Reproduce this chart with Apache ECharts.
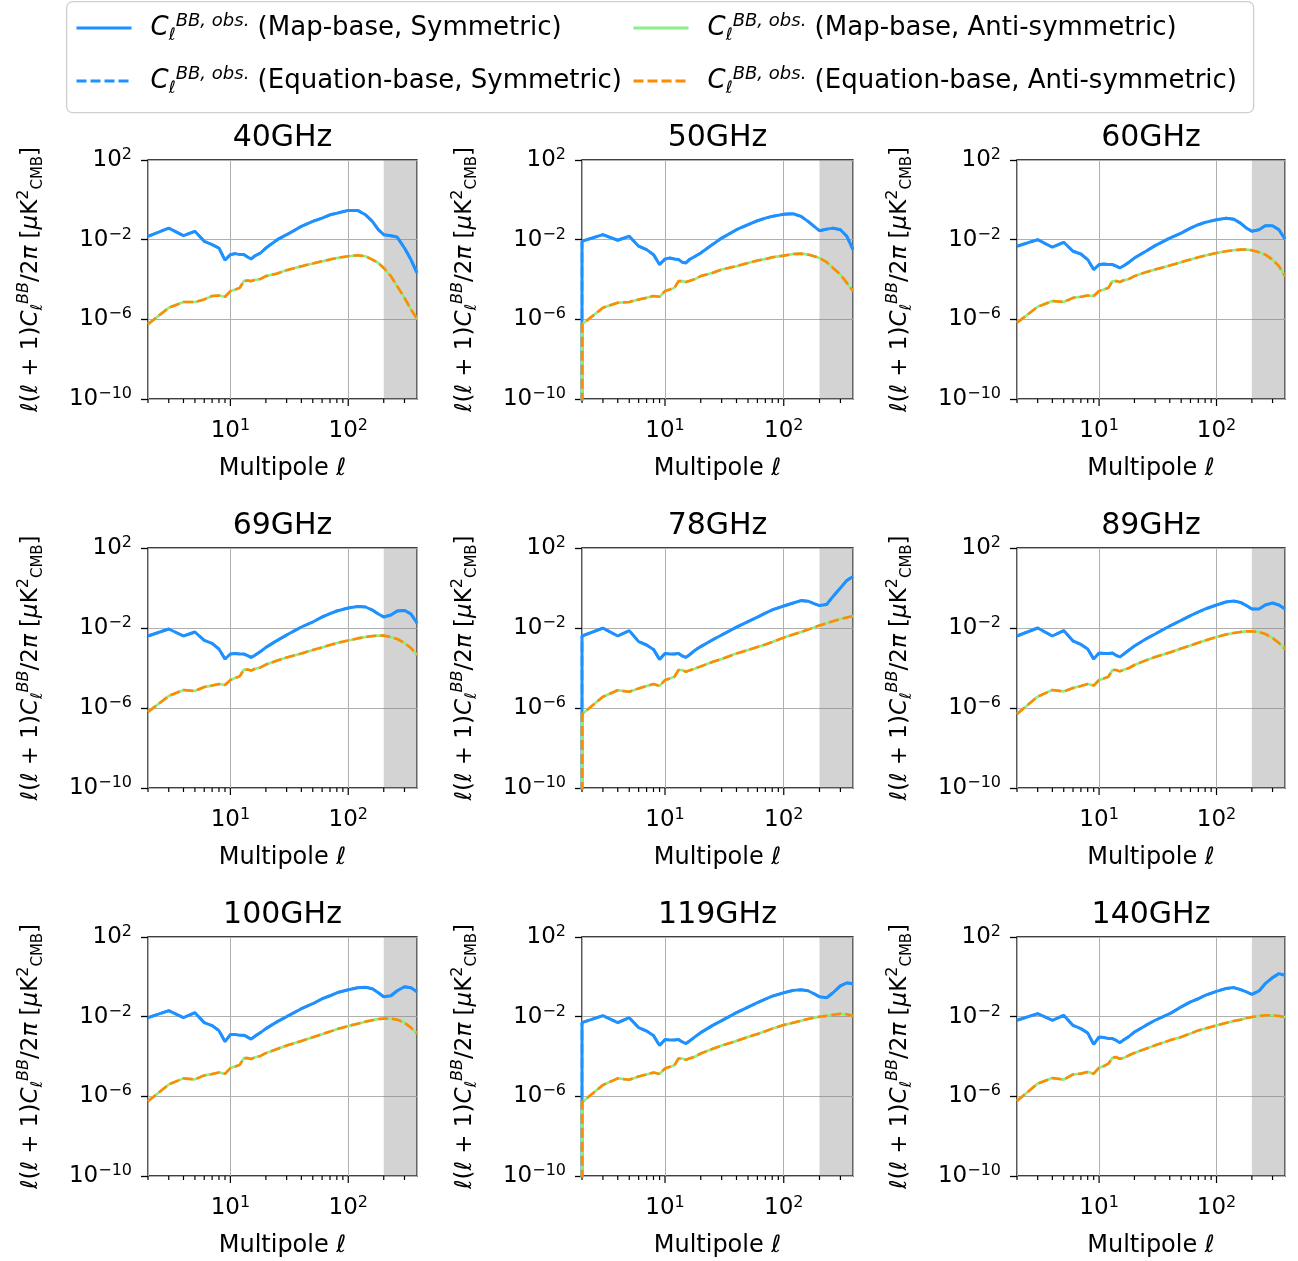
<!DOCTYPE html>
<html><head><meta charset="utf-8">
<script src="https://cdn.jsdelivr.net/npm/echarts@6/dist/echarts.min.js"></script>
<style>html,body{margin:0;padding:0;background:#fff}#c{width:1298px;height:1261px}</style>
</head><body><div id="c"></div>
<script>
// ---------- DATA (multipole ℓ and log10 of ℓ(ℓ+1)C_ℓ^BB/2π) ----------
const ells = [2,3,4,5,6,7,8,9,10,11,12,13,14,15,16,18,20,25,30,40,50,60,70,80,100,120,140,160,180,200,230,260,300,340,383];
const panelTitles = ['40GHz','50GHz','60GHz','69GHz','78GHz','89GHz','100GHz','119GHz','140GHz'];
const legendNames = ['Map-base, Symmetric','Equation-base, Symmetric','Map-base, Anti-symmetric','Equation-base, Anti-symmetric'];

// symmetric (blue) curves, log10 values
const sym40  = [-1.83,-1.42,-1.8,-1.58,-2.08,-2.25,-2.42,-3.03,-2.75,-2.7,-2.75,-2.75,-2.87,-2.97,-2.83,-2.67,-2.42,-2.0,-1.75,-1.33,-1.08,-0.92,-0.75,-0.67,-0.53,-0.53,-0.75,-1.08,-1.5,-1.75,-1.8,-1.87,-2.42,-3.0,-3.67];
const sym50  = [-2.08,-1.75,-2.03,-1.83,-2.33,-2.5,-2.75,-3.25,-2.97,-2.92,-2.97,-3.0,-3.13,-3.17,-3.0,-2.83,-2.67,-2.25,-1.92,-1.5,-1.25,-1.05,-0.92,-0.83,-0.72,-0.7,-0.83,-1.08,-1.33,-1.55,-1.47,-1.42,-1.5,-1.83,-2.5];
const sym60  = [-2.33,-2.0,-2.38,-2.13,-2.58,-2.72,-3.0,-3.5,-3.25,-3.22,-3.25,-3.25,-3.33,-3.42,-3.33,-3.13,-2.92,-2.58,-2.3,-1.92,-1.67,-1.42,-1.25,-1.13,-1.0,-0.92,-0.97,-1.17,-1.42,-1.58,-1.5,-1.3,-1.3,-1.5,-1.97];
const sym69  = [-2.4,-2.05,-2.4,-2.2,-2.62,-2.77,-3.05,-3.55,-3.3,-3.27,-3.3,-3.3,-3.38,-3.47,-3.38,-3.18,-2.97,-2.62,-2.35,-1.95,-1.7,-1.45,-1.28,-1.15,-1.0,-0.92,-0.95,-1.1,-1.3,-1.45,-1.35,-1.15,-1.12,-1.3,-1.75];
const sym78  = [-2.4,-2.01,-2.4,-2.13,-2.68,-2.85,-3.07,-3.57,-3.27,-3.3,-3.3,-3.27,-3.4,-3.47,-3.35,-3.1,-2.93,-2.6,-2.35,-1.96,-1.68,-1.46,-1.26,-1.09,-0.9,-0.75,-0.63,-0.66,-0.78,-0.88,-0.82,-0.42,0.0,0.38,0.58];
const sym89  = [-2.4,-2.0,-2.4,-2.13,-2.65,-2.82,-3.05,-3.55,-3.25,-3.27,-3.27,-3.25,-3.37,-3.45,-3.33,-3.1,-2.9,-2.55,-2.3,-1.9,-1.62,-1.38,-1.2,-1.05,-0.85,-0.7,-0.65,-0.72,-0.88,-1.05,-1.05,-0.85,-0.75,-0.85,-1.05];
const sym100 = [-2.05,-1.7,-2.05,-1.8,-2.3,-2.45,-2.7,-3.25,-2.9,-2.9,-2.93,-2.93,-3.03,-3.13,-3.0,-2.8,-2.6,-2.25,-2.0,-1.6,-1.35,-1.1,-0.95,-0.8,-0.65,-0.55,-0.52,-0.6,-0.8,-1.0,-0.95,-0.7,-0.5,-0.55,-0.75];
const sym119 = [-2.3,-1.95,-2.3,-2.05,-2.55,-2.72,-2.95,-3.45,-3.15,-3.17,-3.17,-3.15,-3.27,-3.35,-3.23,-3.0,-2.8,-2.45,-2.2,-1.8,-1.52,-1.3,-1.12,-0.97,-0.8,-0.68,-0.65,-0.7,-0.85,-1.0,-1.05,-0.8,-0.45,-0.3,-0.35];
const sym140 = [-2.18,-1.85,-2.18,-1.93,-2.44,-2.6,-2.82,-3.39,-3.02,-3.05,-3.1,-3.1,-3.19,-3.31,-3.19,-2.99,-2.77,-2.44,-2.18,-1.85,-1.51,-1.26,-1.1,-0.93,-0.73,-0.59,-0.54,-0.64,-0.76,-0.88,-0.71,-0.34,-0.04,0.16,0.08];

// anti-symmetric (green / orange) curves, log10 values
const anti40  = [-6.25,-5.42,-5.13,-5.13,-5.0,-4.83,-4.8,-4.87,-4.58,-4.5,-4.42,-4.08,-4.05,-4.08,-4.03,-3.97,-3.83,-3.7,-3.53,-3.33,-3.2,-3.08,-3.0,-2.92,-2.83,-2.78,-2.83,-3.0,-3.17,-3.42,-3.83,-4.33,-4.92,-5.5,-5.97];
const anti50  = [-6.25,-5.42,-5.17,-5.13,-5.0,-4.92,-4.83,-4.87,-4.58,-4.5,-4.42,-4.08,-4.08,-4.13,-4.08,-3.97,-3.83,-3.67,-3.5,-3.33,-3.17,-3.05,-2.97,-2.88,-2.8,-2.72,-2.7,-2.75,-2.83,-2.92,-3.13,-3.42,-3.75,-4.17,-4.58];
const anti60  = [-6.17,-5.37,-5.08,-5.13,-4.92,-4.87,-4.8,-4.83,-4.58,-4.5,-4.42,-4.08,-4.08,-4.13,-4.05,-3.97,-3.83,-3.63,-3.5,-3.3,-3.13,-3.0,-2.88,-2.8,-2.67,-2.58,-2.53,-2.5,-2.5,-2.53,-2.63,-2.75,-3.0,-3.33,-3.83];
const anti69  = [-6.2,-5.4,-5.1,-5.15,-4.95,-4.88,-4.8,-4.85,-4.6,-4.5,-4.42,-4.08,-4.08,-4.13,-4.05,-3.97,-3.83,-3.63,-3.48,-3.27,-3.1,-2.97,-2.85,-2.75,-2.62,-2.52,-2.45,-2.4,-2.38,-2.38,-2.45,-2.55,-2.75,-3.0,-3.35];
const anti78  = [-6.31,-5.44,-5.11,-5.19,-5.02,-4.9,-4.8,-4.9,-4.6,-4.52,-4.44,-4.1,-4.1,-4.19,-4.12,-4.02,-3.92,-3.7,-3.55,-3.27,-3.1,-2.95,-2.82,-2.7,-2.48,-2.33,-2.2,-2.08,-1.97,-1.87,-1.76,-1.66,-1.55,-1.47,-1.4];
const anti89  = [-6.3,-5.43,-5.1,-5.17,-5.0,-4.9,-4.8,-4.88,-4.6,-4.52,-4.44,-4.1,-4.1,-4.17,-4.1,-4.0,-3.85,-3.62,-3.45,-3.22,-3.02,-2.87,-2.74,-2.62,-2.45,-2.33,-2.25,-2.2,-2.17,-2.17,-2.2,-2.3,-2.5,-2.75,-3.05];
const anti100 = [-6.25,-5.4,-5.1,-5.15,-4.95,-4.88,-4.8,-4.87,-4.58,-4.5,-4.42,-4.08,-4.08,-4.13,-4.05,-3.97,-3.83,-3.62,-3.45,-3.22,-3.03,-2.88,-2.75,-2.63,-2.47,-2.35,-2.25,-2.18,-2.12,-2.1,-2.1,-2.15,-2.3,-2.55,-2.85];
const anti119 = [-6.3,-5.43,-5.1,-5.17,-5.0,-4.9,-4.8,-4.88,-4.6,-4.52,-4.44,-4.1,-4.1,-4.17,-4.1,-4.0,-3.85,-3.62,-3.45,-3.22,-3.02,-2.87,-2.73,-2.6,-2.42,-2.3,-2.2,-2.12,-2.05,-2.0,-1.95,-1.9,-1.85,-1.88,-1.95];
const anti140 = [-6.23,-5.36,-5.08,-5.16,-4.9,-4.86,-4.78,-4.86,-4.56,-4.48,-4.36,-4.06,-4.03,-4.11,-4.08,-3.94,-3.82,-3.61,-3.44,-3.19,-3.02,-2.85,-2.69,-2.6,-2.44,-2.32,-2.22,-2.15,-2.07,-2.02,-1.97,-1.93,-1.93,-1.97,-2.02];

// panels where both curves drop below the axis at the first multipole
const dropAtStart = [false,true,false,false,true,false,false,true,false];
const dropValue = 1e-13;

// axis ranges and annotations
const ellMin = 2, ellMax = 383, shadeFrom = 200;
const yMin = 1e-10, yMax = 1e2, yIntervalDecades = 4;
const majorTickLocs = [10, 100];
const minorTickLocs = [2,3,4,5,6,7,8,9,20,30,40,50,60,70,80,90,200,300];

// ---------- BUILD ----------
const symAll  = [sym40,sym50,sym60,sym69,sym78,sym89,sym100,sym119,sym140];
const antiAll = [anti40,anti50,anti60,anti69,anti78,anti89,anti100,anti119,anti140];

const BLUE = '#1E90FF', GREEN = '#8AEE8A', ORANGE = '#FF8C00';
const FONT = 'DejaVu Sans';
const colLeft = [148, 582, 1017], colWidth = [269, 271, 268];
const rowTop = [160, 548, 937], rowHeight = [239, 240, 239];

const sup = (s) => String(s).replace('-', '\u2212');
const tickRich = {
  b: {fontSize: 23, lineHeight: 26, fontFamily: FONT, color: '#000'},
  s: {fontSize: 16, lineHeight: 14, verticalAlign: 'top', fontFamily: FONT, color: '#000'}
};
function powLabel(v) {
  const lg = Math.log10(v), e = Math.round(lg);
  if (Math.abs(lg - e) > 1e-6) return '';
  return '{b|10}{s|' + sup(e) + '}';
}
const yNameRich = {
  m: {fontSize: 23, lineHeight: 30, fontFamily: FONT, color: '#000'},
  i: {fontSize: 23, lineHeight: 30, fontStyle: 'italic', fontFamily: FONT, color: '#000'},
  u: {fontSize: 16, lineHeight: 15, verticalAlign: 'top', fontStyle: 'italic', fontFamily: FONT, color: '#000'},
  un: {fontSize: 16, lineHeight: 15, verticalAlign: 'top', fontFamily: FONT, color: '#000'},
  d: {fontSize: 16, lineHeight: 15, verticalAlign: 'bottom', fontStyle: 'italic', fontFamily: FONT, color: '#000'},
  dn: {fontSize: 15, lineHeight: 15, verticalAlign: 'bottom', fontFamily: FONT, color: '#000'}
};
const yName = '{i|ℓ}{m|(}{i|ℓ}{m| + 1)}{i|C}{d|ℓ}{u|BB}{m|/2}{i|π}{m| [}{i|μ}{m|K}{un|2}{dn|CMB}{m|]}';

const grids = [], xAxes = [], yAxes = [], series = [], titles = [];
for (let i = 0; i < 9; i++) {
  const r = Math.floor(i / 3), c = i % 3;
  grids.push({left: colLeft[c], top: rowTop[r], width: colWidth[c], height: rowHeight[r],
    show: true, borderColor: '#000', borderWidth: 1.3, backgroundColor: 'transparent'});
  titles.push({text: panelTitles[i], left: colLeft[c] + colWidth[c] / 2, top: rowTop[r] - 37, textAlign: 'center', padding: 0,
    textStyle: {fontSize: 30, fontWeight: 'normal', color: '#000', fontFamily: FONT}});
  xAxes.push({type: 'log', logBase: 10, gridIndex: i, min: ellMin, max: ellMax,
    axisLine: {show: false}, axisTick: {show: false},
    axisLabel: {formatter: powLabel, rich: tickRich, margin: 19, showMinLabel: false, showMaxLabel: false},
    splitLine: {show: true, lineStyle: {color: '#b0b0b0', width: 1}},
    name: 'Multipole {i|ℓ}', nameLocation: 'middle', nameGap: 58,
    nameTextStyle: {fontSize: 24, color: '#000', fontFamily: FONT,
      rich: {i: {fontSize: 24, fontStyle: 'italic', fontFamily: FONT, color: '#000'}}}});
  yAxes.push({type: 'log', logBase: 10, gridIndex: i, min: yMin, max: yMax, interval: yIntervalDecades,
    axisLine: {show: false}, axisTick: {show: true, length: 7, lineStyle: {color: '#000', width: 1.3}},
    axisLabel: {formatter: powLabel, rich: tickRich, margin: 16},
    splitLine: {show: true, lineStyle: {color: '#b0b0b0', width: 1}},
    name: yName, nameLocation: 'middle', nameGap: 102,
    nameTextStyle: {fontSize: 23, color: '#000', fontFamily: FONT, rich: yNameRich}});

  const symData = ells.map((l, k) => [l, Math.pow(10, symAll[i][k])]);
  const antiData = ells.map((l, k) => [l, Math.pow(10, antiAll[i][k])]);
  if (dropAtStart[i]) { symData.unshift([ellMin, dropValue]); antiData.unshift([ellMin, dropValue]); }

  // x-axis tick marks (major + minor, matplotlib-style) and shaded band
  const tickData = majorTickLocs.map(v => [v, yMin, 7]).concat(minorTickLocs.map(v => [v, yMin, 4]));
  series.push({type: 'custom', xAxisIndex: i, yAxisIndex: i, data: tickData, clip: false, silent: true, z: 1,
    renderItem: (params, api) => {
      const p = api.coord([api.value(0), api.value(1)]);
      return {type: 'line', shape: {x1: p[0], y1: p[1], x2: p[0], y2: p[1] + api.value(2)},
        style: {stroke: '#000', lineWidth: 1.2}};
    },
    markArea: {silent: true, itemStyle: {color: 'rgba(128,128,128,0.35)'},
      data: [[{xAxis: shadeFrom}, {xAxis: ellMax}]]}
  });
  const common = {type: 'line', xAxisIndex: i, yAxisIndex: i, symbol: 'none', showSymbol: false, silent: true, clip: true};
  series.push(Object.assign({}, common, {name: legendNames[0], data: symData, z: 3,
    lineStyle: {color: BLUE, width: 3}, itemStyle: {color: BLUE}}));
  series.push(Object.assign({}, common, {name: legendNames[1], data: symData, z: 4,
    lineStyle: {color: BLUE, width: 2.6, type: [10, 4]}, itemStyle: {color: BLUE}}));
  series.push(Object.assign({}, common, {name: legendNames[2], data: antiData, z: 5,
    lineStyle: {color: GREEN, width: 2.6}, itemStyle: {color: GREEN}}));
  series.push(Object.assign({}, common, {name: legendNames[3], data: antiData, z: 6,
    lineStyle: {color: ORANGE, width: 2.6, type: [10, 4]}, itemStyle: {color: ORANGE}}));
}

const legendRich = {
  c: {fontSize: 26, lineHeight: 32, fontStyle: 'italic', fontFamily: FONT, color: '#000', padding: [0, 0, 0, 14]},
  l: {fontSize: 17, lineHeight: 18, verticalAlign: 'bottom', fontStyle: 'italic', fontFamily: FONT, color: '#000'},
  p: {fontSize: 18, lineHeight: 18, verticalAlign: 'top', fontStyle: 'italic', fontFamily: FONT, color: '#000'},
  t: {fontSize: 26, lineHeight: 32, fontFamily: FONT, color: '#000'}
};
const legendFmt = (name) => '{c|C}{l|ℓ}{p|BB, obs.}{t| (' + name + ')}';
const legendBase = {orient: 'vertical', top: 12, itemWidth: 55, itemHeight: 14, itemGap: 21, padding: 0,
  selectedMode: false, formatter: legendFmt,
  lineStyle: {width: 3},
  itemStyle: {color: 'transparent', borderColor: 'transparent', borderWidth: 0, opacity: 0},
  textStyle: {rich: legendRich, fontSize: 26, color: '#000', fontFamily: FONT}};

const chart = echarts.init(document.getElementById('c'), null, {renderer: 'canvas'});
chart.setOption({
  animation: false,
  backgroundColor: '#fff',
  textStyle: {fontFamily: FONT},
  title: titles,
  graphic: [{type: 'rect', left: 66, top: 1, shape: {width: 1187, height: 111, r: 6}, z: -10, silent: true,
    style: {fill: '#fff', stroke: '#cfcfcf', lineWidth: 1.3}}],
  legend: [
    Object.assign({}, legendBase, {left: 75, data: [legendNames[0], legendNames[1]]}),
    Object.assign({}, legendBase, {left: 632, data: [legendNames[2], legendNames[3]]})
  ],
  grid: grids, xAxis: xAxes, yAxis: yAxes, series: series
});
</script></body></html>
